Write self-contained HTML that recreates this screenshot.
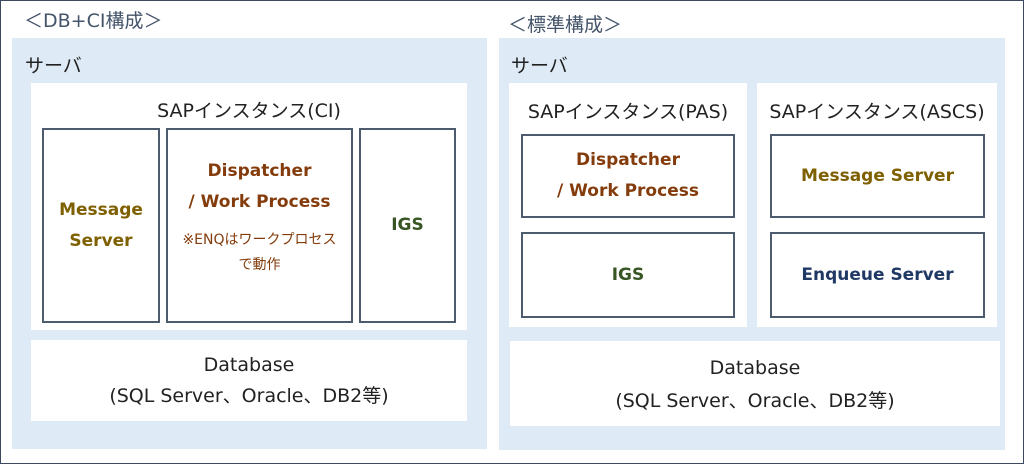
<!DOCTYPE html>
<html><head><meta charset="utf-8"><style>
*{margin:0;padding:0;box-sizing:border-box}
body{width:1024px;height:464px;background:#fff;position:relative;overflow:hidden;font-family:"DejaVu Sans","Noto Sans CJK JP",sans-serif}
.a{position:absolute}
.frame{left:0;top:0;width:1024px;height:464px;border:1px solid #3b4a5c}
.bg{background:#deebf7}
.w{background:#fff}
.bx{background:#fff;border:2px solid #4d5b6e;display:flex;align-items:center;justify-content:center;text-align:center;font-weight:bold;font-size:17px;line-height:31px}
.t{font-size:19px;color:#222;text-align:center}
.title{font-size:19px;color:#44546a}
.ms{color:#7f6000}.dp{color:#843c0c}.ig{color:#375623}.en{color:#1f3864}
</style></head><body>
<div class="a frame"></div>
<div class="a title" style="left:24px;top:6px">＜DB+CI構成＞</div>
<div class="a title" style="left:508px;top:10px">＜標準構成＞</div>

<div class="a bg" style="left:12px;top:38px;width:475px;height:411px"></div>
<div class="a t" style="left:25px;top:51px">サーバ</div>
<div class="a w" style="left:31px;top:83px;width:436px;height:247px"></div>
<div class="a t" style="left:31px;top:96px;width:436px">SAPインスタンス(CI)</div>
<div class="a bx ms" style="left:42px;top:128px;width:118px;height:195px">Message<br>Server</div>
<div class="a bx dp" style="left:166px;top:128px;width:187px;height:195px;display:block;padding-top:26px">Dispatcher<br>/ Work Process<div style="font-weight:normal;font-size:14px;line-height:25px;margin-top:10px">※ENQはワークプロセス<br>で動作</div></div>
<div class="a bx ig" style="left:359px;top:128px;width:97px;height:195px">IGS</div>
<div class="a w t" style="left:31px;top:340px;width:436px;height:81px;padding-top:10px;line-height:31px">Database<br>(SQL Server、Oracle、DB2等)</div>

<div class="a bg" style="left:499px;top:38px;width:506px;height:412px"></div>
<div class="a t" style="left:511px;top:51px">サーバ</div>
<div class="a w" style="left:509px;top:83px;width:238px;height:244px"></div>
<div class="a t" style="left:509px;top:97px;width:238px">SAPインスタンス(PAS)</div>
<div class="a w" style="left:757px;top:83px;width:240px;height:244px"></div>
<div class="a t" style="left:757px;top:97px;width:240px">SAPインスタンス(ASCS)</div>
<div class="a bx dp" style="left:521px;top:134px;width:214px;height:84px">Dispatcher<br>/ Work Process</div>
<div class="a bx ig" style="left:521px;top:232px;width:214px;height:86px">IGS</div>
<div class="a bx ms" style="left:770px;top:134px;width:215px;height:84px">Message Server</div>
<div class="a bx en" style="left:770px;top:232px;width:215px;height:86px">Enqueue Server</div>
<div class="a w t" style="left:510px;top:341px;width:490px;height:85px;padding-top:11px;line-height:33px">Database<br>(SQL Server、Oracle、DB2等)</div>
</body></html>
